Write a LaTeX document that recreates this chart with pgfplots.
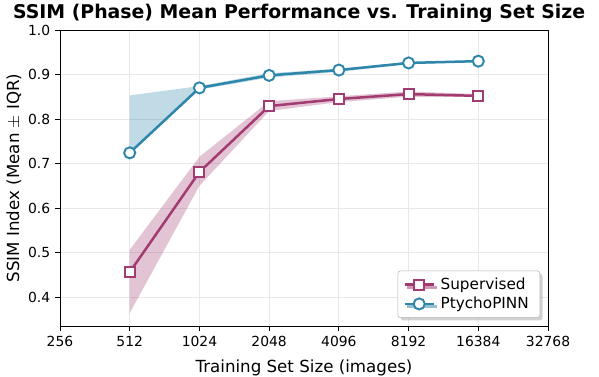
\documentclass[border=0pt]{standalone}
\usepackage{pgfplots}
\pgfplotsset{compat=1.18}
\usepackage{fontspec}
\setmainfont{DejaVu Sans}
\usetikzlibrary{shadows}
\definecolor{sup}{HTML}{A23B72}
\definecolor{pinn}{HTML}{2E86AB}
\begin{document}
\begin{tikzpicture}
\useasboundingbox (-43.2pt,-36.7pt) rectangle (388.1pt,234.7pt);
\begin{axis}[
  scale only axis, width=351.4pt, height=213.1pt,
  xmode=log, log basis x=2,
  xmin=256, xmax=32768, ymin=0.335, ymax=1.0,
  xtick={256,512,1024,2048,4096,8192,16384,32768},
  xticklabels={256,512,1024,2048,4096,8192,16384,32768},
  ytick={0.4,0.5,0.6,0.7,0.8,0.9,1.0},
  yticklabels={0.4,0.5,0.6,0.7,0.8,0.9,1.0},
  tick align=outside, tick pos=left,
  major tick length=3.5pt,
  every tick/.style={black, line width=0.6pt},
  tick label style={font=\fontsize{10}{12}\selectfont},
  grid=major, grid style={gray!18, line width=0.6pt},
  axis line style={black, line width=0.6pt},
  xlabel={Training Set Size (images)},
  ylabel={SSIM Index (Mean $\pm$ IQR)},
  label style={font=\fontsize{12}{14}\selectfont},
  xlabel style={yshift=-3pt},
  ylabel style={yshift=-2pt},
  title={\bfseries SSIM (Phase) Mean Performance vs. Training Set Size},
  title style={font=\fontsize{13.6}{16}\selectfont, at={(0.49,1)}, yshift=-4.5pt},
  legend style={at={(0.984,0.027)}, anchor=south east, font=\fontsize{11}{13}\selectfont,
    draw=gray!60, rounded corners=2pt, fill=white, drop shadow={shadow xshift=2pt, shadow yshift=-2pt, fill=gray!70},
    inner xsep=4pt, inner ysep=3pt, row sep=0pt, nodes={inner xsep=4pt}},
  legend cell align=left,
  legend image code/.code={\draw[mark repeat=2, mark phase=2] plot coordinates {(0pt,0pt) (10.5pt,0pt) (21pt,0pt)};},
]
% bands
\addplot[draw=none, fill=sup, fill opacity=0.3, forget plot] coordinates {
 (512,0.506) (1024,0.715) (2048,0.840) (4096,0.851) (8192,0.862) (16384,0.856)
 (16384,0.850) (8192,0.850) (4096,0.838) (2048,0.818) (1024,0.650) (512,0.364)} -- cycle;
\addplot[draw=none, fill=pinn, fill opacity=0.3, forget plot] coordinates {
 (512,0.853) (1024,0.874) (2048,0.903) (4096,0.913) (8192,0.928) (16384,0.932)
 (16384,0.928) (8192,0.923) (4096,0.906) (2048,0.893) (1024,0.866) (512,0.724)} -- cycle;
\addplot[sup, line width=1.8pt, mark=square*, mark size=3.6pt,
  mark options={fill=white, draw=sup, line width=1.4pt}] coordinates {
 (512,0.456) (1024,0.681) (2048,0.829) (4096,0.845) (8192,0.856) (16384,0.852)};
\addlegendentry{Supervised}
\addplot[pinn, line width=1.8pt, mark=*, mark size=4pt,
  mark options={fill=white, draw=pinn, line width=1.4pt}] coordinates {
 (512,0.724) (1024,0.870) (2048,0.898) (4096,0.910) (8192,0.926) (16384,0.930)};
\addlegendentry{PtychoPINN}
\end{axis}
\end{tikzpicture}
\end{document}
